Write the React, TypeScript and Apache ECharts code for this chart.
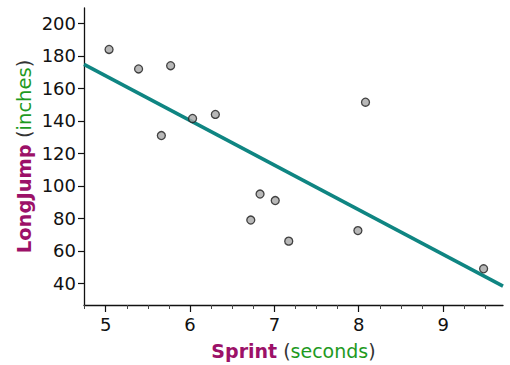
import React, { useEffect, useRef } from "react";
import * as echarts from "echarts";

const sprintSeconds = [5.04, 5.39, 5.77, 6.03, 6.3, 5.66, 8.08, 6.83, 7.01, 6.72, 7.17, 7.99, 9.48];
const longJumpInches = [184, 172, 174, 141.5, 144, 131, 151.5, 95, 91, 79, 66, 72.5, 49];
const fitLineX = [4.743, 9.71];
const fitLineY = [174.8, 38.3];
const xTickLabels = [5, 6, 7, 8, 9];
const xMinorTicks = [4.75, 5.25, 5.5, 5.75, 6.25, 6.5, 6.75, 7.25, 7.5, 7.75, 8.25, 8.5, 8.75, 9.25, 9.5];
const yTickLabels = [40, 60, 80, 100, 120, 140, 160, 180, 200];

const FONT = "DejaVu Sans";

function titleStyle(size: number) {
  return {
    fontFamily: FONT,
    fontSize: size,
    rich: {
      a: { fontFamily: FONT, fontSize: size, fontWeight: "bold", color: "#9c1168" },
      b: { fontFamily: FONT, fontSize: size, color: "#1e9a1e" },
      p: { fontFamily: FONT, fontSize: size, color: "#333" },
    },
  };
}

export default function App() {
  const ref = useRef<HTMLDivElement>(null);
  useEffect(() => {
    if (!ref.current) return;
    const chart = echarts.init(ref.current, null, { renderer: "svg" });
    const points = sprintSeconds.map((x, i) => [x, longJumpInches[i]]);
    const line = fitLineX.map((x, i) => [x, fitLineY[i]]);
    chart.setOption({
      animation: false,
      backgroundColor: "#ffffff",
      grid: { left: 84, right: 7, top: 8, bottom: 58 },
      xAxis: [
        {
          type: "value",
          min: 4.743,
          max: 9.71,
          position: "bottom",
          splitLine: { show: false },
          axisLine: { show: true, onZero: false, lineStyle: { color: "#111", width: 1.3 } },
          axisTick: { show: true, customValues: xTickLabels, length: 7, lineStyle: { color: "#111", width: 1.2 } },
          axisLabel: {
            customValues: xTickLabels,
            margin: 10,
            fontFamily: FONT,
            fontSize: 18,
            color: "#111",
          },
          name: "{a|Sprint} {p|(}{b|seconds}{p|)}",
          nameLocation: "middle",
          nameGap: 36,
          nameMoveOverlap: false,
          nameTextStyle: titleStyle(19),
        },
        {
          type: "value",
          min: 4.743,
          max: 9.71,
          position: "bottom",
          gridIndex: 0,
          splitLine: { show: false },
          axisLine: { show: false, onZero: false },
          axisTick: { show: true, customValues: xMinorTicks, length: 4, lineStyle: { color: "#444", width: 1 } },
          axisLabel: { show: false },
        },
      ],
      yAxis: {
        type: "value",
        min: 26.7,
        max: 209.5,
        splitLine: { show: false },
        axisLine: { show: true, onZero: false, lineStyle: { color: "#111", width: 1.3 } },
        axisTick: { show: true, customValues: yTickLabels, length: 6, lineStyle: { color: "#111", width: 1.2 } },
        axisLabel: {
          customValues: yTickLabels,
          margin: 8,
          fontFamily: FONT,
          fontSize: 18,
          color: "#111",
        },
        name: "{a|LongJump} {p|(}{b|inches}{p|)}",
        nameLocation: "middle",
        nameGap: 50,
        nameMoveOverlap: false,
        nameRotate: 90,
        nameTextStyle: titleStyle(19.5),
      },
      series: [
        {
          type: "line",
          data: line,
          xAxisIndex: 0,
          symbol: "none",
          lineStyle: { color: "#0f8582", width: 3.5 },
          z: 2,
        },
        {
          type: "scatter",
          data: points,
          xAxisIndex: 0,
          symbol: "circle",
          symbolSize: 8,
          itemStyle: { color: "#a6a6a6", borderColor: "#1a1a1a", borderWidth: 1.3 },
          z: 3,
        },
      ],
    });
    return () => chart.dispose();
  }, []);
  return (
    <div
      ref={ref}
      style={{ position: "fixed", left: 0, top: 0, width: 510, height: 365 }}
    />
  );
}
